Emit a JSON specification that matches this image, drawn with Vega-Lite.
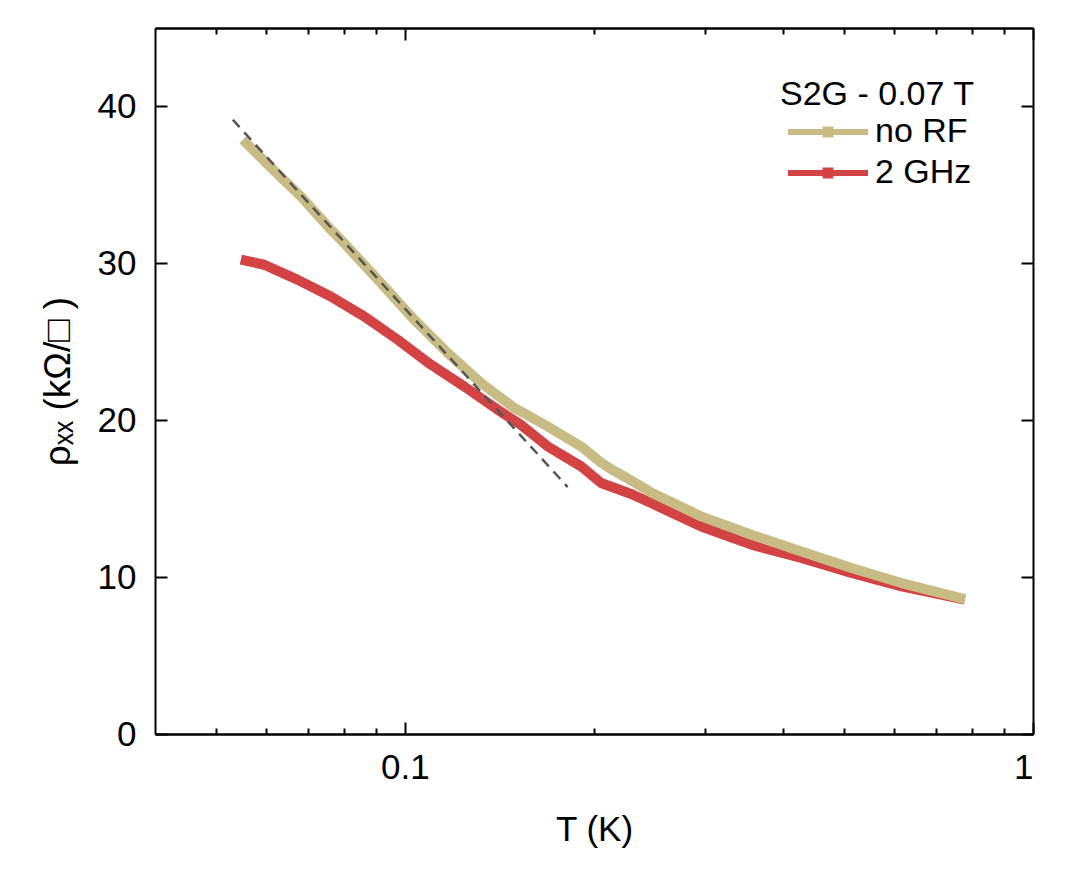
{
  "$schema": "https://vega.github.io/schema/vega-lite/v6.json",
  "autosize": {"type": "none"},
  "padding": {"left": 155, "top": 28, "right": 40, "bottom": 142},
  "width": 878,
  "height": 706,
  "background": "white",
  "datasets": {
    "curves": [
      {"series": "2 GHz", "T": 0.0548, "rho": 30.23},
      {"series": "2 GHz", "T": 0.0597, "rho": 29.91},
      {"series": "2 GHz", "T": 0.0674, "rho": 28.96},
      {"series": "2 GHz", "T": 0.0762, "rho": 27.89},
      {"series": "2 GHz", "T": 0.0861, "rho": 26.62},
      {"series": "2 GHz", "T": 0.0974, "rho": 25.13},
      {"series": "2 GHz", "T": 0.1100, "rho": 23.54},
      {"series": "2 GHz", "T": 0.1243, "rho": 22.15},
      {"series": "2 GHz", "T": 0.1405, "rho": 20.67},
      {"series": "2 GHz", "T": 0.1530, "rho": 19.71},
      {"series": "2 GHz", "T": 0.1688, "rho": 18.33},
      {"series": "2 GHz", "T": 0.1908, "rho": 17.06},
      {"series": "2 GHz", "T": 0.2053, "rho": 16.0},
      {"series": "2 GHz", "T": 0.2292, "rho": 15.3},
      {"series": "2 GHz", "T": 0.2466, "rho": 14.72},
      {"series": "2 GHz", "T": 0.2963, "rho": 13.23},
      {"series": "2 GHz", "T": 0.3561, "rho": 12.07},
      {"series": "2 GHz", "T": 0.4278, "rho": 11.22},
      {"series": "2 GHz", "T": 0.5140, "rho": 10.26},
      {"series": "2 GHz", "T": 0.6176, "rho": 9.41},
      {"series": "2 GHz", "T": 0.7790, "rho": 8.56},
      {"series": "no RF", "T": 0.0552, "rho": 37.88},
      {"series": "no RF", "T": 0.0611, "rho": 36.13},
      {"series": "no RF", "T": 0.0683, "rho": 34.26},
      {"series": "no RF", "T": 0.0762, "rho": 32.15},
      {"series": "no RF", "T": 0.0800, "rho": 31.29},
      {"series": "no RF", "T": 0.0916, "rho": 28.74},
      {"series": "no RF", "T": 0.1035, "rho": 26.4},
      {"series": "no RF", "T": 0.1170, "rho": 24.28},
      {"series": "no RF", "T": 0.1322, "rho": 22.37},
      {"series": "no RF", "T": 0.1494, "rho": 20.78},
      {"series": "no RF", "T": 0.1688, "rho": 19.6},
      {"series": "no RF", "T": 0.1908, "rho": 18.33},
      {"series": "no RF", "T": 0.2053, "rho": 17.3},
      {"series": "no RF", "T": 0.2156, "rho": 16.75},
      {"series": "no RF", "T": 0.2250, "rho": 16.35},
      {"series": "no RF", "T": 0.2466, "rho": 15.4},
      {"series": "no RF", "T": 0.2963, "rho": 13.87},
      {"series": "no RF", "T": 0.3561, "rho": 12.7},
      {"series": "no RF", "T": 0.4278, "rho": 11.64},
      {"series": "no RF", "T": 0.5140, "rho": 10.58},
      {"series": "no RF", "T": 0.6176, "rho": 9.62},
      {"series": "no RF", "T": 0.7790, "rho": 8.6}
    ],
    "fit": [
      {"T": 0.0532, "rho": 39.15},
      {"T": 0.1816, "rho": 15.74}
    ]
  },
  "layer": [
    {
      "data": {"name": "curves"},
      "transform": [{"filter": "datum.series == '2 GHz'"}],
      "mark": {"type": "line", "strokeWidth": 10, "strokeJoin": "round", "strokeCap": "butt"},
      "encoding": {
        "x": {
          "field": "T",
          "type": "quantitative",
          "scale": {"type": "log", "domain": [0.04, 1], "nice": false},
          "axis": {
            "orient": "bottom",
            "values": [0.1, 1],
            "format": "~g",
            "tickSize": -12,
            "labelPadding": 28,
            "title": "T (K)",
            "titlePadding": 27
          }
        },
        "y": {
          "field": "rho",
          "type": "quantitative",
          "scale": {"domain": [0, 45], "nice": false},
          "axis": {
            "orient": "left",
            "values": [0, 10, 20, 30, 40],
            "tickSize": -12,
            "labelPadding": 31,
            "title": "ρₓₓ (kΩ/□ )",
            "titleFontSize": 37,
            "titlePadding": 20
          }
        },
        "color": {
          "field": "series",
          "type": "nominal",
          "scale": {"domain": ["no RF", "2 GHz"], "range": ["#c8bc84", "#d44343"]},
          "legend": {
            "orient": "none",
            "legendX": 625,
            "legendY": 50,
            "padding": 0,
            "title": "S2G - 0.07 T",
            "titleLimit": 500,
            "titleFont": "Liberation Sans",
            "titleFontSize": 34,
            "titleFontWeight": "normal",
            "titleColor": "black",
            "titlePadding": -3,
            "labelFont": "Liberation Sans",
            "labelFontSize": 34,
            "labelColor": "black",
            "labelOffset": 44,
            "rowPadding": 1,
            "symbolType": "M-1,0H3M0.88,-0.12H1.12V0.12H0.88Z",
            "symbolSize": 1600,
            "symbolStrokeWidth": 6,
            "symbolOffset": 5
          }
        }
      }
    },
    {
      "data": {"name": "curves"},
      "transform": [{"filter": "datum.series == 'no RF'"}],
      "mark": {"type": "line", "strokeWidth": 10, "strokeJoin": "round", "strokeCap": "butt"},
      "encoding": {
        "x": {
          "field": "T",
          "type": "quantitative",
          "axis": {
            "orient": "bottom",
            "values": [0.05, 0.06, 0.07, 0.08, 0.09, 0.2, 0.3, 0.4, 0.5, 0.6, 0.7, 0.8, 0.9],
            "tickSize": -6,
            "labels": false,
            "title": null
          }
        },
        "y": {
          "field": "rho",
          "type": "quantitative",
          "axis": {
            "orient": "right",
            "values": [0, 10, 20, 30, 40],
            "tickSize": -12,
            "labels": false,
            "title": null
          }
        },
        "color": {"field": "series", "type": "nominal"}
      }
    },
    {
      "data": {"name": "fit"},
      "mark": {"type": "line", "color": "#555555", "strokeWidth": 2.5, "strokeDash": [10, 7]},
      "encoding": {
        "x": {
          "field": "T",
          "type": "quantitative",
          "axis": {"orient": "top", "values": [0.1, 1], "tickSize": -12, "labels": false, "title": null}
        },
        "y": {"field": "rho", "type": "quantitative", "axis": null}
      }
    },
    {
      "data": {"name": "fit"},
      "mark": {"type": "point", "opacity": 0},
      "encoding": {
        "x": {
          "field": "T",
          "type": "quantitative",
          "axis": {
            "orient": "top",
            "values": [0.05, 0.06, 0.07, 0.08, 0.09, 0.2, 0.3, 0.4, 0.5, 0.6, 0.7, 0.8, 0.9],
            "tickSize": -6,
            "labels": false,
            "title": null
          }
        },
        "y": {"field": "rho", "type": "quantitative", "axis": null}
      }
    }
  ],
  "resolve": {"axis": {"x": "independent", "y": "independent"}},
  "config": {
    "view": {"stroke": null},
    "axis": {
      "grid": false,
      "domainColor": "black",
      "domainWidth": 2,
      "tickColor": "black",
      "tickWidth": 2,
      "labelFont": "Liberation Sans",
      "labelFontSize": 35,
      "labelColor": "black",
      "titleFont": "Liberation Sans",
      "titleFontSize": 35,
      "titleFontWeight": "normal",
      "titleColor": "black"
    }
  }
}
